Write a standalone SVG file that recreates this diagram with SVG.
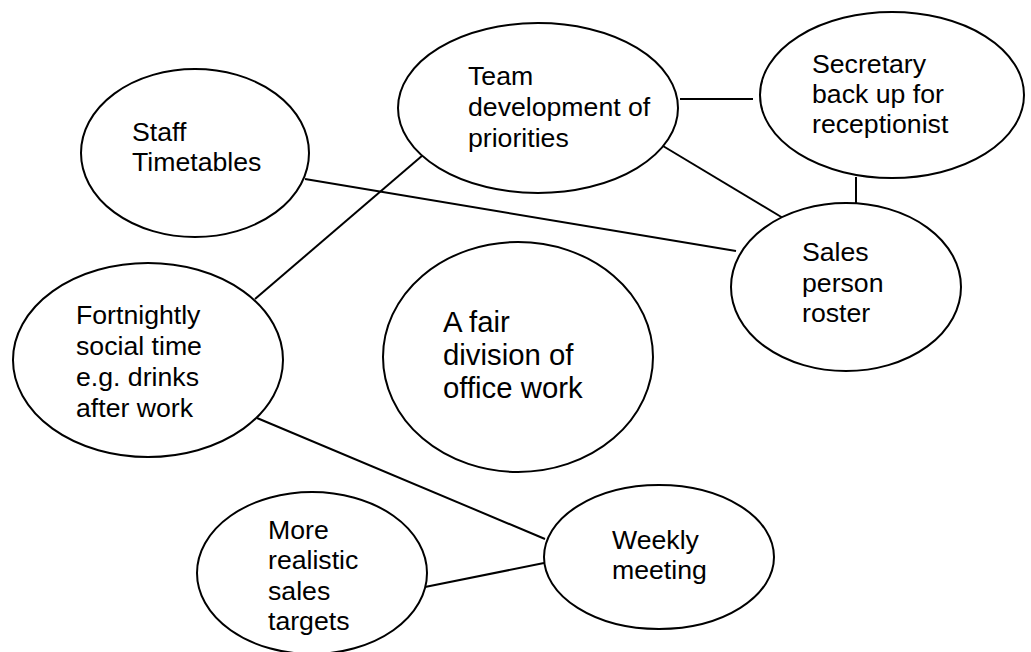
<svg xmlns="http://www.w3.org/2000/svg" width="1031" height="652" viewBox="0 0 1031 652">
  <style>
    .node ellipse { fill: #ffffff; stroke: #000000; stroke-width: 2; }
    .node text { font-family: "Liberation Sans", Arial, sans-serif; font-size: 26.67px; fill: #000000; }
    .node text.big { font-size: 29.33px; }
    .links line { stroke: #000000; stroke-width: 2; }
  </style>
  <rect x="0" y="0" width="1031" height="652" fill="#ffffff"/>

  <!-- connectors -->
  <g id="connectors" class="links">
    <line x1="680" y1="99" x2="753" y2="99"/>
    <line x1="856" y1="177" x2="856" y2="203"/>
    <line x1="663" y1="146" x2="783" y2="218"/>
    <line x1="305" y1="179" x2="736" y2="251"/>
    <line x1="423" y1="155" x2="255" y2="299"/>
    <line x1="257" y1="418" x2="545" y2="539"/>
    <line x1="425" y1="587" x2="544" y2="563"/>
  </g>

  <g id="staff-timetables" class="node">
    <ellipse cx="195" cy="153" rx="114" ry="84"/>
    <text x="132" y="141">Staff</text>
    <text x="132" y="171">Timetables</text>
  </g>

  <g id="team-development" class="node">
    <ellipse cx="538" cy="108" rx="140" ry="85"/>
    <text x="468" y="85">Team</text>
    <text x="468" y="116">development of</text>
    <text x="468" y="147">priorities</text>
  </g>

  <g id="secretary-backup" class="node">
    <ellipse cx="892" cy="95" rx="132" ry="83"/>
    <text x="812" y="73">Secretary</text>
    <text x="812" y="103">back up for</text>
    <text x="812" y="133">receptionist</text>
  </g>

  <g id="sales-roster" class="node">
    <ellipse cx="846" cy="287" rx="115" ry="84"/>
    <text x="802" y="261">Sales</text>
    <text x="802" y="292">person</text>
    <text x="802" y="322">roster</text>
  </g>

  <g id="fortnightly-social" class="node">
    <ellipse cx="148" cy="360" rx="135" ry="97"/>
    <text x="76" y="324">Fortnightly</text>
    <text x="76" y="355">social time</text>
    <text x="76" y="386">e.g. drinks</text>
    <text x="76" y="417">after work</text>
  </g>

  <g id="fair-division" class="node">
    <ellipse cx="518" cy="357" rx="135" ry="115"/>
    <text class="big" x="443" y="332">A fair</text>
    <text class="big" x="443" y="365">division of</text>
    <text class="big" x="443" y="398">office work</text>
  </g>

  <g id="weekly-meeting" class="node">
    <ellipse cx="659" cy="557" rx="115" ry="72"/>
    <text x="612" y="549">Weekly</text>
    <text x="612" y="579">meeting</text>
  </g>

  <g id="sales-targets" class="node">
    <ellipse cx="312" cy="573" rx="115" ry="81"/>
    <text x="268" y="539">More</text>
    <text x="268" y="569">realistic</text>
    <text x="268" y="600">sales</text>
    <text x="268" y="630">targets</text>
  </g>
</svg>
